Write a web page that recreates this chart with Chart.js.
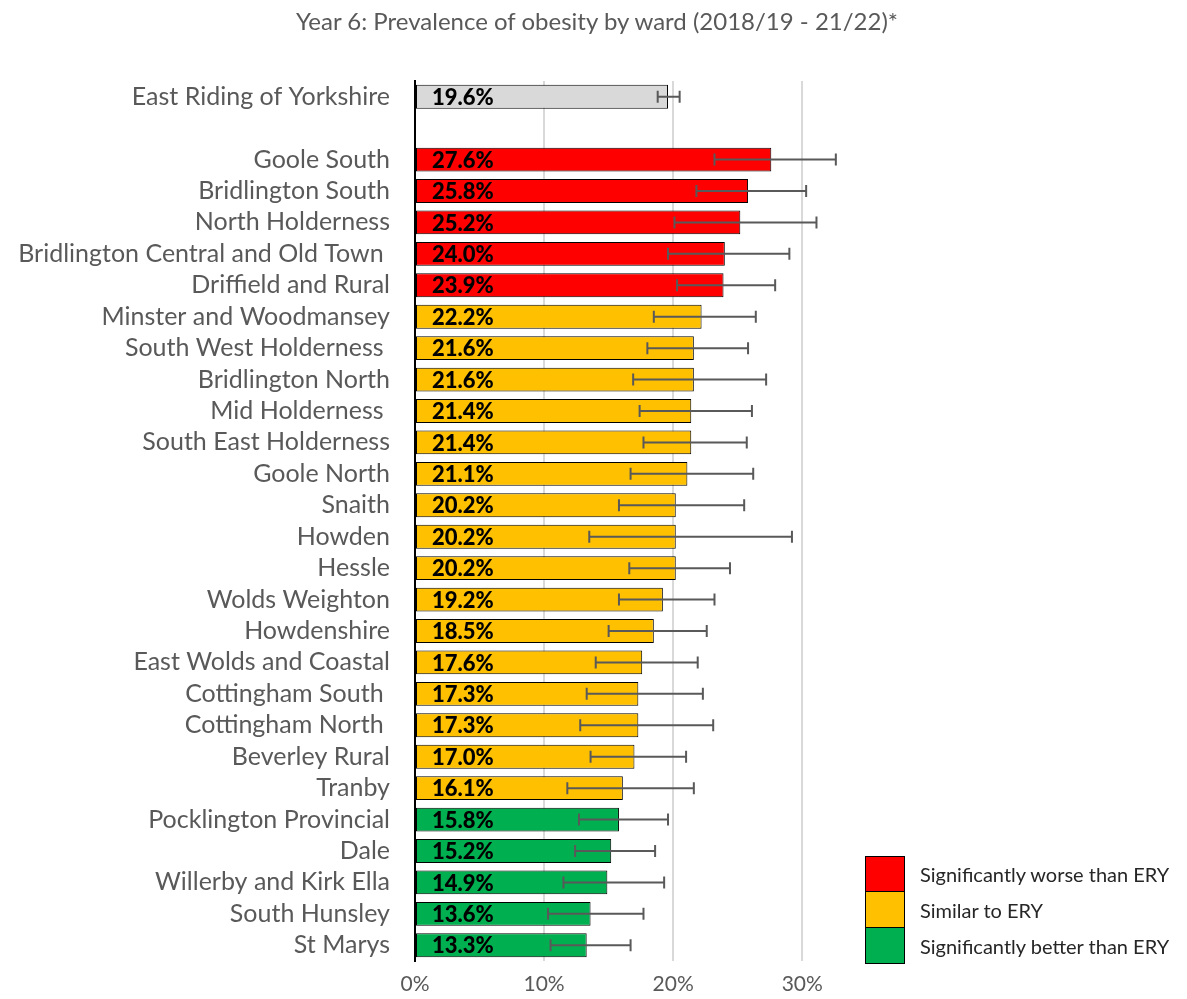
<!DOCTYPE html>
<html>
<head>
<meta charset="utf-8">
<script src="https://cdn.jsdelivr.net/npm/chart.js@4.4.0/dist/chart.umd.min.js"></script>
<style>
html,body{margin:0;padding:0;background:#fff;}
#wrap{position:relative;width:1187px;height:999px;}
#title{position:absolute;left:0;width:1194px;top:6px;text-align:center;font-family:Lato,"Open Sans",sans-serif;font-size:24px;color:#595959;}
#legend{position:absolute;left:865px;top:856px;font-family:Lato,"Open Sans",sans-serif;font-size:20px;color:#262626;}
#legend .row{display:flex;align-items:center;height:36px;}
#legend .sw{width:40px;height:36px;box-sizing:border-box;border:1px solid #000;margin-right:15px;}
#legend .row + .row .sw{border-top:none;}
</style>
</head>
<body>
<div id="wrap">
<canvas id="c" width="1187" height="999"></canvas>
<div id="title">Year 6: Prevalence of obesity by ward (2018/19 - 21/22)*</div>
<div id="legend">
  <div class="row"><div class="sw" style="background:#ff0000"></div><span>Significantly worse than ERY</span></div>
  <div class="row"><div class="sw" style="background:#ffc000"></div><span>Similar to ERY</span></div>
  <div class="row"><div class="sw" style="background:#00b050"></div><span>Significantly better than ERY</span></div>
</div>
</div>
<script>
const categories = ["East Riding of Yorkshire", "", "Goole South", "Bridlington South", "North Holderness",
  "Bridlington Central and Old Town ", "Driffield and Rural", "Minster and Woodmansey", "South West Holderness ",
  "Bridlington North", "Mid Holderness ", "South East Holderness", "Goole North", "Snaith", "Howden", "Hessle",
  "Wolds Weighton", "Howdenshire", "East Wolds and Coastal", "Cottingham South ", "Cottingham North ",
  "Beverley Rural", "Tranby", "Pocklington Provincial", "Dale", "Willerby and Kirk Ella", "South Hunsley", "St Marys"];
const values = [19.6, null, 27.6, 25.8, 25.2, 24.0, 23.9, 22.2, 21.6, 21.6, 21.4, 21.4, 21.1, 20.2, 20.2, 20.2,
  19.2, 18.5, 17.6, 17.3, 17.3, 17.0, 16.1, 15.8, 15.2, 14.9, 13.6, 13.3];
const lowerCI = [18.8, null, 23.2, 21.8, 20.1, 19.6, 20.3, 18.5, 18.0, 16.9, 17.4, 17.7, 16.7, 15.8, 13.5, 16.6,
  15.8, 15.0, 14.0, 13.3, 12.8, 13.6, 11.8, 12.7, 12.4, 11.5, 10.3, 10.5];
const upperCI = [20.5, null, 32.6, 30.3, 31.1, 29.0, 27.9, 26.4, 25.8, 27.2, 26.1, 25.7, 26.2, 25.5, 29.2, 24.4,
  23.2, 22.6, 21.9, 22.3, 23.1, 21.0, 21.6, 19.6, 18.6, 19.3, 17.7, 16.7];
const significance = ["ref", null, "worse", "worse", "worse", "worse", "worse", "similar", "similar", "similar",
  "similar", "similar", "similar", "similar", "similar", "similar", "similar", "similar", "similar", "similar",
  "similar", "similar", "similar", "better", "better", "better", "better", "better"];
const xTicks = [0, 10, 20, 30];
const colourMap = {ref: "#d9d9d9", worse: "#ff0000", similar: "#ffc000", better: "#00b050"};

const errorBars = {
  id: "errorBars",
  afterDatasetsDraw(chart) {
    const ctx = chart.ctx, meta = chart.getDatasetMeta(0), xs = chart.scales.x;
    ctx.save();
    ctx.strokeStyle = "#595959";
    ctx.lineWidth = 2;
    meta.data.forEach((bar, i) => {
      if (lowerCI[i] == null) return;
      const y = bar.y, x1 = xs.getPixelForValue(lowerCI[i]), x2 = xs.getPixelForValue(upperCI[i]);
      ctx.beginPath();
      ctx.moveTo(x1, y); ctx.lineTo(x2, y);
      ctx.moveTo(x1, y - 6); ctx.lineTo(x1, y + 6);
      ctx.moveTo(x2, y - 6); ctx.lineTo(x2, y + 6);
      ctx.stroke();
    });
    ctx.fillStyle = "#000";
    ctx.font = "900 22px Lato, 'Open Sans', sans-serif";
    ctx.textBaseline = "middle";
    ctx.textAlign = "left";
    meta.data.forEach((bar, i) => {
      if (values[i] == null) return;
      ctx.fillText(values[i].toFixed(1) + "%", xs.getPixelForValue(0) + 17, bar.y + 1);
    });
    ctx.restore();
  }
};

new Chart(document.getElementById("c"), {
  type: "bar",
  data: {
    labels: categories,
    datasets: [{
      data: values,
      backgroundColor: significance.map(s => s ? colourMap[s] : "transparent"),
      borderColor: "#000",
      borderWidth: 1,
      borderSkipped: false,
      barPercentage: 0.76,
      categoryPercentage: 1.0
    }]
  },
  options: {
    indexAxis: "y",
    responsive: false,
    animation: false,
    layout: {padding: {top: 81, left: 0, right: 346, bottom: 0}},
    plugins: {
      legend: {display: false},
      tooltip: {enabled: false},
      title: {display: false}
    },
    scales: {
      x: {
        min: 0,
        max: 33,
        afterBuildTicks(scale) { scale.ticks = xTicks.map(v => ({value: v})); },
        afterFit(scale) { scale.height = 38; },
        grid: {color: "#d9d9d9", lineWidth: 2, drawTicks: false, z: 0},
        border: {display: false},
        ticks: {
          color: "#595959",
          font: {family: "Lato, 'Open Sans', sans-serif", size: 21},
          padding: 11,
          callback: v => v + "%"
        }
      },
      y: {
        afterFit(scale) { scale.width = 415; },
        grid: {display: false},
        border: {display: true, color: "#000", width: 2},
        ticks: {
          color: "#595959",
          font: {family: "Lato, 'Open Sans', sans-serif", size: 25},
          padding: 17,
          autoSkip: false
        }
      }
    }
  },
  plugins: [errorBars]
});
</script>
</body>
</html>
